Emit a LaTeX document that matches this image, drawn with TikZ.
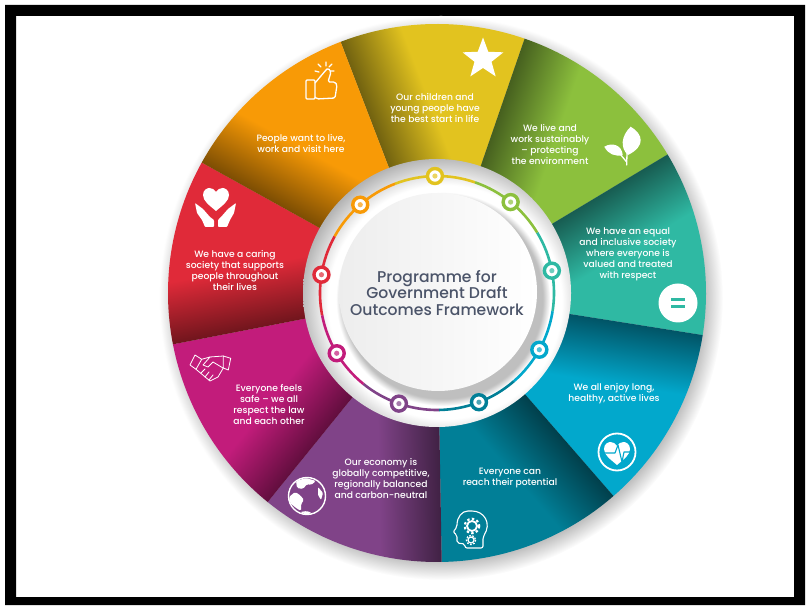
\documentclass[tikz,border=0pt]{standalone}
\usepackage{fontspec}
\setmainfont{Poppins}
\newfontfamily\titlefont{Poppins Medium}
\usetikzlibrary{calc,shapes.geometric}
\definecolor{outyellow}{HTML}{E2C31F}
\definecolor{outgreen}{HTML}{8CC03D}
\definecolor{outteal}{HTML}{2FB9A3}
\definecolor{outblue}{HTML}{02A8CC}
\definecolor{outdeep}{HTML}{017F97}
\definecolor{outpurple}{HTML}{804388}
\definecolor{outmagenta}{HTML}{C21C7B}
\definecolor{outred}{HTML}{E02A39}
\definecolor{outorange}{HTML}{F89A06}
\definecolor{titleslate}{HTML}{4B5469}
\pgfdeclareradialshading{softedge}{\pgfpointorigin}{color(0bp)=(gray!50); color(23.3bp)=(gray!50); color(25bp)=(white); color(50bp)=(white)}
\pgfdeclareradialshading{ringedge}{\pgfpointorigin}{color(0bp)=(white); color(20bp)=(white); color(25bp)=(gray!60); color(50bp)=(gray!60)}
\newcommand{\heartpath}{(0,12) .. controls (-7,6) and (-13,2) .. (-13,-4) .. controls (-13,-9) and (-9,-11) .. (-6.5,-11) .. controls (-4,-11) and (-1.5,-9.5) .. (0,-7) .. controls (1.5,-9.5) and (4,-11) .. (6.5,-11) .. controls (9,-11) and (13,-9) .. (13,-4) .. controls (13,2) and (7,6) .. (0,12) -- cycle}
\tikzset{
  outcome/.style={font=\titlefont\fontsize{9.2}{11}\selectfont,white,align=center,inner sep=0pt},
  iconline/.style={white,line width=1.3pt,line join=round,line cap=round},
}
\begin{document}
\begin{tikzpicture}[x=1pt,y=1pt,shift={(0,610)},yscale=-1]
  \useasboundingbox (0,0) rectangle (810,610);
  % Frame
  \fill[black,even odd rule] (5,5) rectangle (805,605) (16,16) rectangle (794,597);
  \coordinate (hub) at (437,293);

  % Wheel shadow and sectors
  \shade[shading=softedge] (441,298) circle (282);
  \foreach \a/\col [count=\i] in {-111/outyellow,-71/outgreen,-31/outteal,9/outblue,49/outdeep,89/outpurple,129/outmagenta,169/outred,209/outorange}{
    \pgfdeclareverticalshading{edge\i}{100bp}{color(0bp)=(\col); color(45bp)=(\col); color(50bp)=(\col!50!black); color(100bp)=(\col!50!black)}
    \begin{scope}
      \clip (hub) -- ($(hub)+(\a:269)$) arc (\a:\a+40:269) -- cycle;
      \shade[shading=edge\i,shading angle=-\a] (hub) circle (310);
    \end{scope}
  }

  % Hub ring and disc
  \begin{scope}
    \clip (hub) circle (134);
    \shade[shading=ringedge] (445,302) circle (146);
  \end{scope}
  \shade[shading=softedge] (443,299) circle (107);
  \shade[left color=gray!14,right color=white] (438,292) circle (99);

  % Track and stops
  \foreach \a/\col [count=\i] in {-111/outyellow,-71/outgreen,-31/outteal,9/outblue,49/outdeep,89/outpurple,129/outmagenta,169/outred,209/outorange}{
    \draw[\col,line width=2.6pt] ($(hub)+(\a:117)$) arc (\a:\a+40:117);
  }
  \foreach \a/\col [count=\i] in {-111/outyellow,-71/outgreen,-31/outteal,9/outblue,49/outdeep,89/outpurple,129/outmagenta,169/outred,209/outorange}{
    \node[circle,draw=\col,line width=3.4pt,fill=white,minimum size=15pt,inner sep=0pt] (stop\i) at ($(hub)+(\a+20:117)$) {};
    \fill[\col!70] (stop\i.center) circle (2.6);
  }

  \node[font=\titlefont\fontsize{15.6}{16.7}\selectfont,titleslate,align=center,inner sep=0pt] (title) at (437,293) {Programme for\\Government Draft\\Outcomes Framework};

  % Sector texts
  \node[outcome] (yellowtext) at (435,108) {Our children and\\young people have\\the best start in life};
  \node[outcome] (greentext) at (550,144.5) {We live and\\work sustainably\\– protecting\\the environment};
  \node[outcome] (tealtext) at (628,254) {We have an equal\\and inclusive society\\where everyone is\\valued and treated\\with respect};
  \node[outcome] (bluetext) at (614,393.5) {We all enjoy long,\\healthy, active lives};
  \node[outcome] (deeptext) at (510,478.5) {Everyone can\\reach their potential};
  \node[outcome] (purpletext) at (381,478.5) {Our economy is\\globally competitive,\\regionally balanced\\and carbon-neutral};
  \node[outcome] (magentatext) at (269,404.5) {Everyone feels\\safe – we all\\respect the law\\and each other};
  \node[outcome] (redtext) at (235,270.5) {We have a caring\\society that supports\\people throughout\\their lives};
  \node[outcome] (orangetext) at (301,143.5) {People want to live,\\work and visit here};

  % Star
  \node[star,star points=5,star point ratio=2.4,fill=white,minimum size=43pt,inner sep=0pt] (staricon) at (483,59) {};

  % Thumb
  \draw[iconline,rounded corners=1pt] (306,80) rectangle (315,99);
  \draw[iconline,rounded corners=1.5pt] (315,83) -- (326,70) -- (328,68) -- (331,72) -- (328,82) -- (335,82) -- (337,85) -- (335,98) -- (317,99) -- (315,97);
  \draw[iconline] (315,71) -- (319,72) (318,64) -- (321,67) (326,62) -- (326,66) (332,64) -- (329,67) (334,71) -- (331,71);

  % Heart and hands
  \fill[white,shift={(216,199)}] \heartpath;
  \fill[white,rounded corners=0.8pt] (195,203) -- (203,209) -- (210,217) -- (214,220) -- (214,227) -- (205,227) -- (202,220) -- (197,213) -- cycle;
  \fill[white,rounded corners=0.8pt] (236,203) -- (228,209) -- (221,217) -- (218,220) -- (218,227) -- (227,227) -- (230,220) -- (234,213) -- cycle;

  % Leaves
  \fill[white] (630.7,126.7) .. controls (643,134) and (646,146) .. (628,155) .. controls (620,148) and (621,136) .. (630.7,126.7) -- cycle;
  \fill[white] (604.3,146.7) .. controls (612,142) and (622,145) .. (622.7,155) .. controls (615,157) and (608,154) .. (604.3,146.7) -- cycle;
  \draw[iconline] (626.7,165) -- (627,152) (626.7,162) -- (620,154);

  % Equals
  \node[circle,fill=white,minimum size=39pt,inner sep=0pt] (equalicon) at (678,303) {};
  \draw[outteal,line width=2.6pt] (671,299.5) -- (685,299.5) (671,306.5) -- (685,306.5);

  % Health monitor
  \draw[white,line width=1.8pt] (617,452) circle (18.5);
  \fill[white,shift={(617,453)}] \heartpath;
  \draw[outblue,line width=1.1pt,line join=round] (604,453) -- (615,453) -- (618,445) -- (622,462) -- (624,452) -- (630,452);

  % Head and gears
  \draw[iconline,line width=1.1pt,rounded corners=2pt] (483,548) -- (483,537) .. controls (492,523) and (484,511) .. (470,511) .. controls (462,511) and (457,517) .. (457,527) -- (453,532) -- (457,535) -- (457,543) -- (465,544) -- (465,548) -- cycle;
  \draw[white,line width=1.8pt] (472,526) circle (5);
  \draw[white,line width=2.2pt,dash pattern=on 2.4pt off 2.4pt] (472,526) circle (7.2);
  \draw[white,line width=1.2pt] (471,540) circle (3);
  \draw[white,line width=1.3pt,dash pattern=on 1.7pt off 1.5pt] (471,540) circle (4.6);

  % Globe
  \draw[white,line width=1.4pt] (307,496) circle (18.5);
  \fill[white,rounded corners=1.5pt] (296,481) -- (306,478) -- (316,481) -- (311,485) -- (307,484) -- (303,489) -- (297,488) -- cycle;
  \fill[white,rounded corners=1.5pt] (289,497) -- (295,492) -- (300,495) -- (304,500) -- (301,504) -- (301,511) -- (296,508) -- (290,503) -- cycle;
  \fill[white,rounded corners=1.5pt] (300,512) -- (307,511) -- (312,513) -- (306,514.5) -- cycle;
  \fill[white,rounded corners=1pt] (318,487) -- (323,493) -- (321,500) -- (318,495) -- cycle;

  % Handshake
  \draw[iconline,line width=0.8pt] (190,365) -- (195,355) -- (201.7,359.3) -- (196,369.3) -- cycle;
  \draw[iconline,line width=0.8pt] (223.3,356) -- (230.7,358.3) -- (228.3,370) -- (223.3,368) -- cycle;
  \draw[iconline,line width=0.8pt] (201.7,359.3) -- (210,357) -- (223.3,356) (223.3,368) -- (218,377) -- (210,381) -- (196,369.3);
  \draw[iconline,line width=0.8pt] (210,357) -- (203,365) -- (208,367) -- (213,362) -- (223,368);
  \draw[iconline,line width=0.8pt] (201,373) -- (205,369) (205,377) -- (209,372) (209,380) -- (213,375);
\end{tikzpicture}
\end{document}
